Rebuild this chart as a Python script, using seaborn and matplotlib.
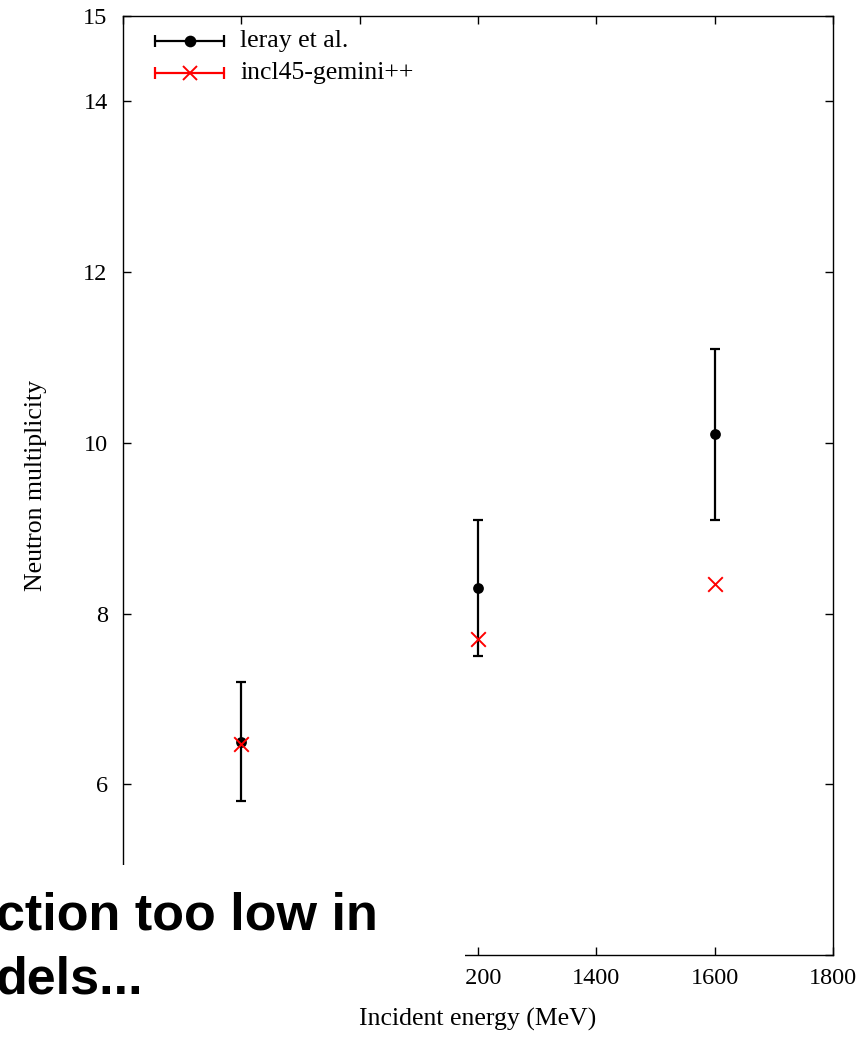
import matplotlib
matplotlib.use("Agg")
import matplotlib.pyplot as plt
import seaborn as sns
import pandas as pd
from matplotlib.patches import Rectangle
from matplotlib.lines import Line2D

# Incident proton energy (MeV)
energy = [800, 1200, 1600]
# Measured neutron multiplicity with uncertainty
leray_mult = [6.5, 8.3, 10.1]
leray_err = [0.7, 0.8, 1.0]
# Model prediction
incl_mult = [6.47, 7.7, 8.35]

x_ticks = [600, 800, 1000, 1200, 1400, 1600, 1800]
y_ticks = [4, 6, 8, 10, 12, 14, 15]

series_names = ["leray et al.", "incl45-gemini++"]

df = pd.DataFrame({
    "energy": energy + energy,
    "mult": leray_mult + incl_mult,
    "series": [series_names[0]] * 3 + [series_names[1]] * 3,
})

sns.set_theme(style="ticks")
plt.rcParams["font.family"] = ["Liberation Serif", "DejaVu Serif"]
for key in ["text.color", "axes.labelcolor", "xtick.color", "ytick.color",
            "axes.edgecolor"]:
    plt.rcParams[key] = "black"

fig = plt.figure(figsize=(8.68, 10.37), dpi=100)
ax = fig.add_axes([123 / 868, 1 - 955 / 1037, (833 - 123) / 868, (955 - 16) / 1037])

ax.errorbar(energy, leray_mult, yerr=leray_err, fmt="none", ecolor="black",
            elinewidth=1.6, capsize=3.5, capthick=1.6, zorder=2)
sns.scatterplot(data=df[df.series == series_names[0]], x="energy", y="mult",
                color="black", marker="o", s=60, edgecolor="black", linewidth=0,
                ax=ax, zorder=3, legend=False)
sns.scatterplot(data=df[df.series == series_names[1]], x="energy", y="mult",
                color="#ff0000", marker="x", s=110, linewidth=1.4,
                ax=ax, zorder=4, legend=False)

ax.set_xlim(600, 1800)
ax.set_ylim(4, 15)
ax.set_xticks(x_ticks)
ax.set_yticks(y_ticks)
ax.tick_params(direction="in", length=6, width=1, top=True, right=True,
               labelsize=17.5, colors="black")
ax.tick_params(axis="x", pad=9)
ax.tick_params(axis="y", pad=11)
for s in ax.spines.values():
    s.set_visible(True)
    s.set_linewidth(1.0)
    s.set_color("black")
ax.set_xlabel("Incident energy (MeV)", fontsize=18.5, labelpad=14)
ax.set_ylabel("Neutron multiplicity", fontsize=18.5, labelpad=26)
ax.grid(False)

# Labels that sit under the caption panel stay hidden
for lbl, v in zip(ax.get_xticklabels(), x_ticks):
    if v < 1200:
        lbl.set_visible(False)
for lbl, v in zip(ax.get_yticklabels(), y_ticks):
    if v < 6:
        lbl.set_visible(False)

# Key in the upper-left corner, gnuplot-style samples with end caps
key_rows = [("black", "o", 7, series_names[0]),
            ("#ff0000", "x", 10, series_names[1])]
x0, x1 = 155, 224
for i, (col, mk, ms, label) in enumerate(key_rows):
    yk = 41 + 32 * i
    fx0, fx1 = x0 / 868, x1 / 868
    fy = 1 - yk / 1037
    fig.add_artist(Line2D([fx0, fx1], [fy, fy], color=col, lw=1.6,
                          transform=fig.transFigure))
    fig.add_artist(Line2D([fx0, fx1], [fy, fy], color=col, lw=0, marker="|",
                          markersize=8, markeredgewidth=1.6,
                          transform=fig.transFigure))
    fig.add_artist(Line2D([(fx0 + fx1) / 2], [fy], color=col, lw=0, marker=mk,
                          markersize=ms, markeredgewidth=1.4,
                          transform=fig.transFigure))
    fig.text(240 / 868, fy, label, fontsize=18.5, va="center", ha="left",
             color="black")

# Overlaid slide caption
fig.add_artist(Rectangle((0, 1 - 1005 / 1037), 465 / 868, (1005 - 865) / 1037,
                         transform=fig.transFigure, facecolor="white",
                         edgecolor="none", zorder=10))
fig.text(-4 / 868, 1 - 930 / 1037, "ction too low in", fontsize=37.5,
         fontweight="bold", family=["Liberation Sans", "DejaVu Sans"],
         color="black", ha="left", va="baseline", zorder=11)
fig.text(-4 / 868, 1 - 993 / 1037, "dels...", fontsize=37.5,
         fontweight="bold", family=["Liberation Sans", "DejaVu Sans"],
         color="black", ha="left", va="baseline", zorder=11)

fig.savefig("out.png", dpi=100)
